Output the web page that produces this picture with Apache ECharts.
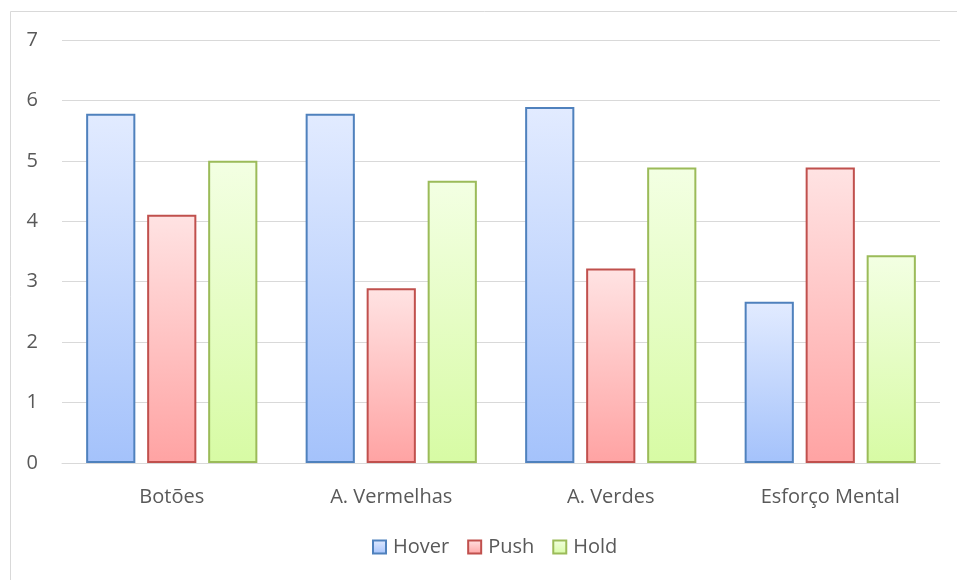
<!DOCTYPE html>
<html>
<head>
<meta charset="utf-8">
<script src="https://cdn.jsdelivr.net/npm/echarts@6/dist/echarts.min.js"></script>
<style>
  html, body { margin: 0; padding: 0; background: #ffffff; }
  #chart { width: 957px; height: 580px; }
</style>
</head>
<body>
<div id="chart"></div>
<script>
// Categories and mean scores per interaction mode
const categories = ['Botões', 'A. Vermelhas', 'A. Verdes', 'Esforço Mental'];
const hoverValues = [5.78, 5.78, 5.89, 2.67];
const pushValues = [4.11, 2.89, 3.22, 4.89];
const holdValues = [5.00, 4.67, 4.89, 3.44];
const yTicks = [0, 1, 2, 3, 4, 5, 6, 7];

const FONT = '"Open Sans", "Noto Sans", sans-serif';
const TEXT = '#595959';
const FS = 20;

function grad(top, bottom) {
  return new echarts.graphic.LinearGradient(0, 0, 0, 1, [
    { offset: 0, color: top },
    { offset: 1, color: bottom }
  ]);
}

function barSeries(name, values, top, bottom, border) {
  return {
    name: name,
    type: 'bar',
    data: values,
    barGap: '24%',
    barCategoryGap: '22%',
    itemStyle: {
      color: grad(top, bottom),
      borderColor: border,
      borderWidth: 2
    },
    emphasis: { disabled: true }
  };
}

const chart = echarts.init(document.getElementById('chart'), null, { renderer: 'canvas' });
chart.setOption({
  animation: false,
  backgroundColor: '#ffffff',
  textStyle: { fontFamily: FONT },
  graphic: [{
    type: 'rect',
    shape: { x: 10.5, y: 11.5, width: 1000, height: 1000 },
    style: { fill: 'none', stroke: '#d9d9d9', lineWidth: 1 },
    silent: true
  }],
  grid: { left: 62, right: 17, top: 40, bottom: 117, containLabel: false },
  legend: {
    top: 532,
    left: 367,
    padding: [5, 5, 5, 5],
    itemWidth: 13,
    itemHeight: 13,
    itemGap: 18,
    icon: 'rect',
    textStyle: { fontFamily: FONT, fontSize: FS, color: TEXT, padding: [0, 0, 0, 2] },
    data: ['Hover', 'Push', 'Hold']
  },
  xAxis: {
    type: 'category',
    data: categories,
    axisLine: { lineStyle: { color: '#d9d9d9', width: 1 } },
    axisTick: { show: false },
    axisLabel: { fontFamily: FONT, fontSize: FS, color: TEXT, margin: 24 }
  },
  yAxis: {
    type: 'value',
    min: yTicks[0],
    max: yTicks[yTicks.length - 1],
    interval: 1,
    axisLine: { show: false },
    axisTick: { show: false },
    axisLabel: { fontFamily: FONT, fontSize: FS, color: TEXT, margin: 24 },
    splitLine: { lineStyle: { color: '#d9d9d9', width: 1 } }
  },
  series: [
    barSeries('Hover', hoverValues, '#e2ebff', '#a4c2fb', '#4f81bd'),
    barSeries('Push', pushValues, '#ffe3e3', '#ffa3a3', '#c0504d'),
    barSeries('Hold', holdValues, '#f3ffe3', '#d7fba4', '#9bbb59')
  ]
});
</script>
</body>
</html>
